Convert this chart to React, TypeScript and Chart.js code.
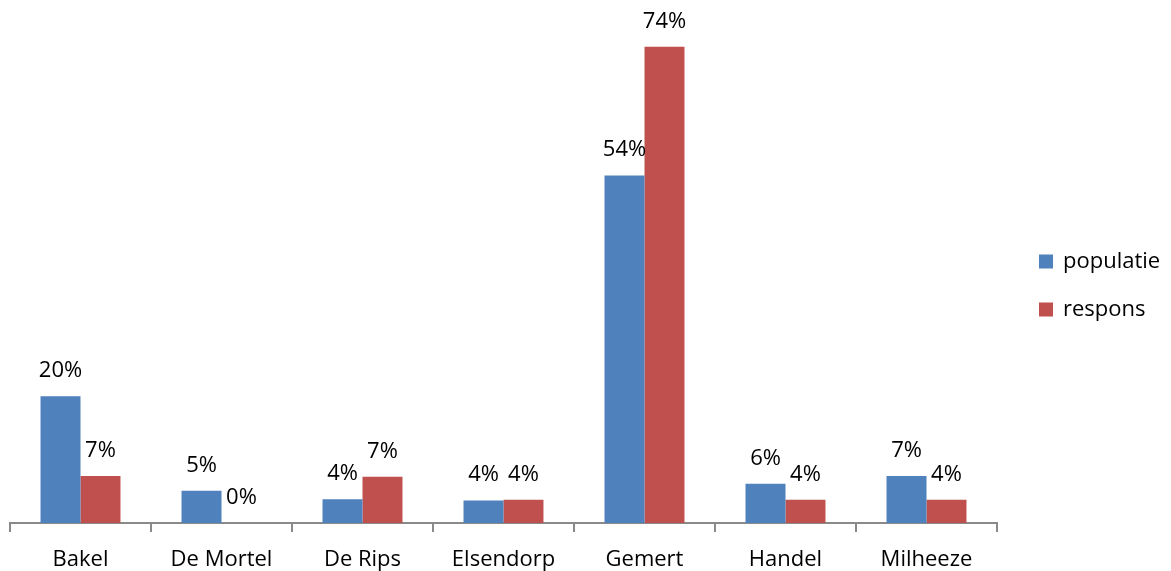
import React, { useEffect, useRef } from "react";
import { Chart, registerables } from "chart.js";

Chart.register(...registerables);

const categories = ["Bakel", "De Mortel", "De Rips", "Elsendorp", "Gemert", "Handel", "Milheeze"];
const seriesNames = ["populatie", "respons"];
const populatie = [19.7, 5.0, 3.7, 3.5, 54.0, 6.1, 7.3];
const respons = [7.3, 0, 7.2, 3.6, 74.0, 3.6, 3.6];
const seriesColors = ["#4F81BD", "#C0504D"];

const FONT = '"Open Sans", sans-serif';
const FONT_SIZE = 22;

const barLabelPlugin = {
  id: "barLabels",
  afterDatasetsDraw(chart: any) {
    const ctx = chart.ctx;
    ctx.save();
    ctx.font = `${FONT_SIZE}px ${FONT}`;
    ctx.fillStyle = "#000000";
    ctx.textAlign = "center";
    ctx.textBaseline = "alphabetic";
    chart.data.datasets.forEach((ds: any, i: number) => {
      const meta = chart.getDatasetMeta(i);
      meta.data.forEach((bar: any, j: number) => {
        const v = ds.data[j] as number;
        ctx.fillText(Math.round(v) + "%", bar.x, bar.y - 19);
      });
    });
    ctx.restore();
  },
};

const sideLegendPlugin = {
  id: "sideLegend",
  afterDraw(chart: any) {
    const ctx = chart.ctx;
    const area = chart.chartArea;
    const x = area.right + 42;
    const midY = chart.height / 2;
    const gap = 48;
    const n = chart.data.datasets.length;
    ctx.save();
    ctx.font = `${FONT_SIZE}px ${FONT}`;
    ctx.textAlign = "left";
    ctx.textBaseline = "middle";
    chart.data.datasets.forEach((ds: any, i: number) => {
      const cy = midY + (i - (n - 1) / 2) * gap;
      ctx.fillStyle = ds.backgroundColor;
      ctx.fillRect(x, cy - 7, 14, 14);
      ctx.fillStyle = "#000000";
      ctx.fillText(ds.label, x + 24, cy);
    });
    ctx.restore();
  },
};

export default function App() {
  const canvasRef = useRef<HTMLCanvasElement | null>(null);

  useEffect(() => {
    if (!canvasRef.current) return;
    const chart = new Chart(canvasRef.current, {
      type: "bar",
      data: {
        labels: categories,
        datasets: [
          { label: seriesNames[0], data: populatie, backgroundColor: seriesColors[0], borderWidth: 0 },
          { label: seriesNames[1], data: respons, backgroundColor: seriesColors[1], borderWidth: 0 },
        ],
      },
      options: {
        responsive: false,
        animation: false,
        devicePixelRatio: 1,
        layout: { padding: { left: 10, right: 174, top: 8, bottom: 0 } },
        datasets: {
          bar: { categoryPercentage: 0.567, barPercentage: 1.0 },
        },
        plugins: {
          legend: { display: false },
          tooltip: { enabled: false },
        },
        scales: {
          x: {
            offset: true,
            grid: {
              offset: true,
              drawOnChartArea: false,
              drawTicks: true,
              tickLength: 9,
              color: "#8A8A8A",
              lineWidth: 2,
            },
            border: { display: true, color: "#8A8A8A", width: 2 },
            ticks: {
              color: "#000000",
              font: { family: FONT, size: FONT_SIZE },
              padding: 15,
              maxRotation: 0,
            },
            afterFit: (scale: any) => {
              scale.height = 48;
            },
          },
          y: {
            display: false,
            min: 0,
            max: 80,
          },
        },
      },
      plugins: [barLabelPlugin, sideLegendPlugin],
    });
    return () => chart.destroy();
  }, []);

  return (
    <div style={{ position: "fixed", left: 0, top: 0, width: 1171, height: 571, background: "#ffffff" }}>
      <canvas ref={canvasRef} width={1171} height={571} style={{ display: "block" }} />
    </div>
  );
}
